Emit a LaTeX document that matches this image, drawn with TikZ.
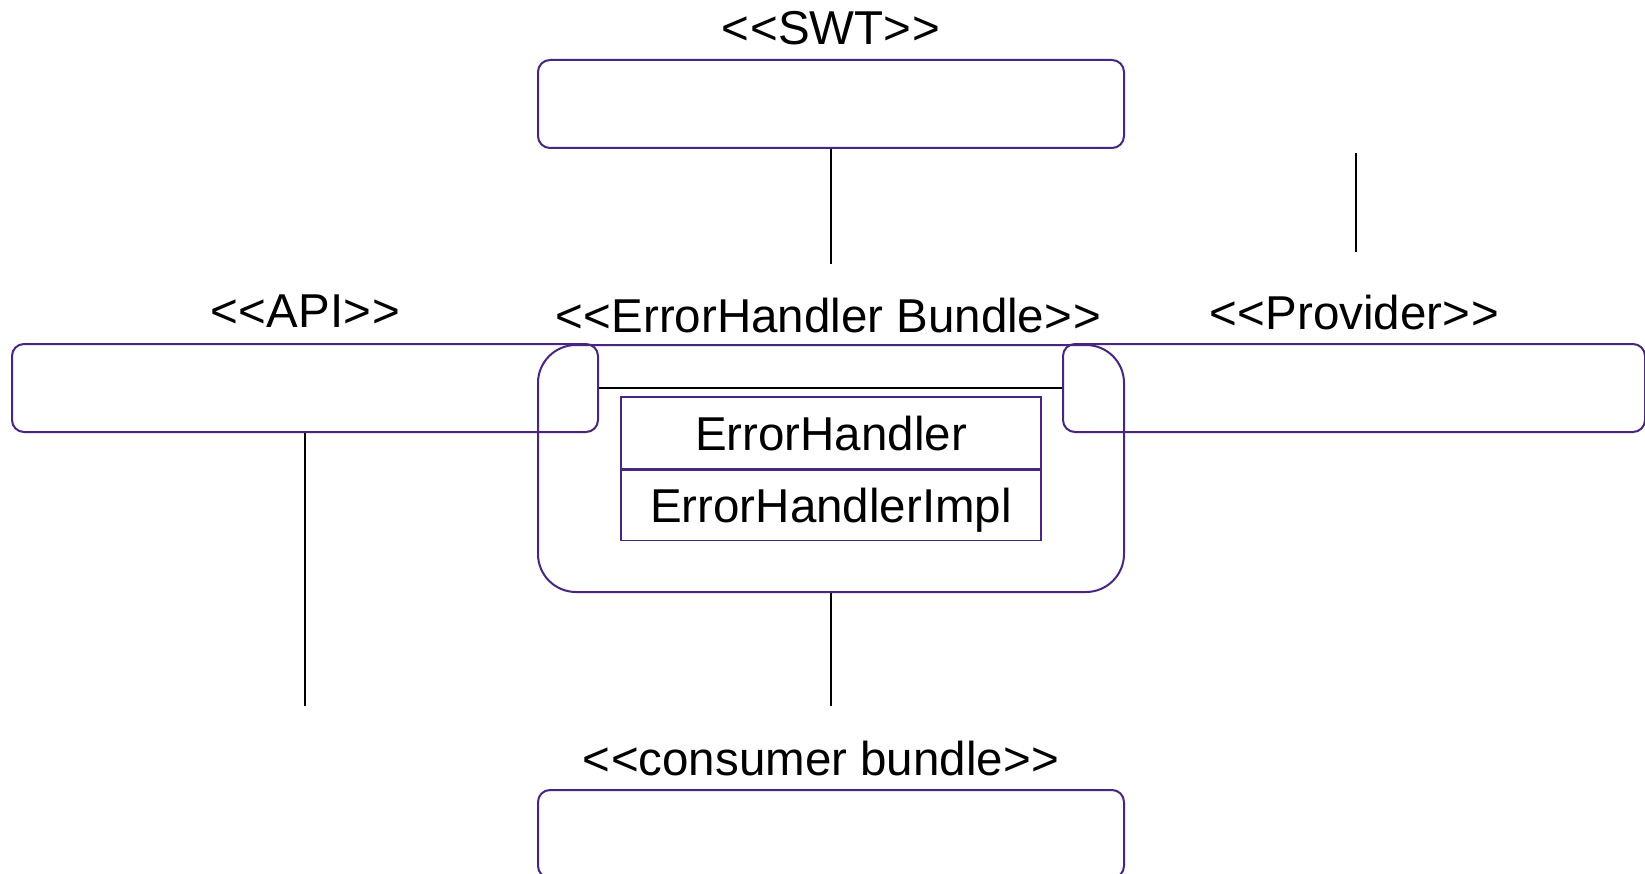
\documentclass[tikz,border=0pt]{standalone}
\usepackage{fontspec}
\setmainfont{Liberation Sans}
\usepackage{tikz}

\definecolor{bundle}{RGB}{72,38,128}
\newcommand{\stype}[1]{<\kern1pt<#1>\kern1pt>}

\begin{document}
\begin{tikzpicture}[x=1pt,y=-1pt,
    bundlebox/.style={draw=bundle, line width=2pt, rounded corners=12pt,
      minimum width=586pt, minimum height=88pt, inner sep=0pt},
    classbox/.style={draw=bundle, line width=1.6pt, minimum width=420pt,
      inner sep=0pt, text height=34pt, text depth=0pt,
      font=\fontsize{47.5}{52}\selectfont},
    stereolbl/.style={anchor=base, inner sep=0pt, font=\fontsize{47.5}{52}\selectfont},
    wire/.style={line width=1.8pt}]
    \useasboundingbox (0,0) rectangle (1645,874);
    \clip (0,0) rectangle (1645,874);

    % bundles
    \node[bundlebox] (swt) at (831,104) {};
    \node[bundlebox] (api) at (305,388) {};
    \node[bundlebox, minimum width=582pt] (prov) at (1354,388) {};
    \node[bundlebox, minimum height=247pt, rounded corners=38pt] (eh) at (831,468.5) {};
    \node[bundlebox] (cons) at (831,834) {};

    % classes inside the ErrorHandler bundle
    \node[classbox, minimum height=72pt] (iface) at (831,433) {ErrorHandler};
    \node[classbox, minimum height=70pt, anchor=north] (impl) at (iface.south) {ErrorHandlerImpl};

    % stereotypes
    \node[stereolbl] (swtlbl) at (831,45) {\stype{SWT}};
    \node[stereolbl] (apilbl) at (305,327) {\stype{API}};
    \node[stereolbl] (ehlbl) at (828,332) {\stype{ErrorHandler Bundle}};
    \node[stereolbl] (provlbl) at (1354,330) {\stype{Provider}};
    \node[stereolbl] (conslbl) at (821,775) {\stype{consumer bundle}};

    % wires
    \coordinate (swtend) at (831,264);
    \coordinate (provtop) at (1356,153);
    \coordinate (provend) at (1356,252);
    \coordinate (apiend) at (305,706);
    \coordinate (ehend) at (831,706);
    \draw[wire] (swt.south) -- (swtend);
    \draw[wire] (provtop) -- (provend);
    \draw[wire] (api.south) -- (apiend);
    \draw[wire] (eh.south) -- (ehend);
    \draw[wire] (api.east) -- (prov.west);

  \end{tikzpicture}
\end{document}
